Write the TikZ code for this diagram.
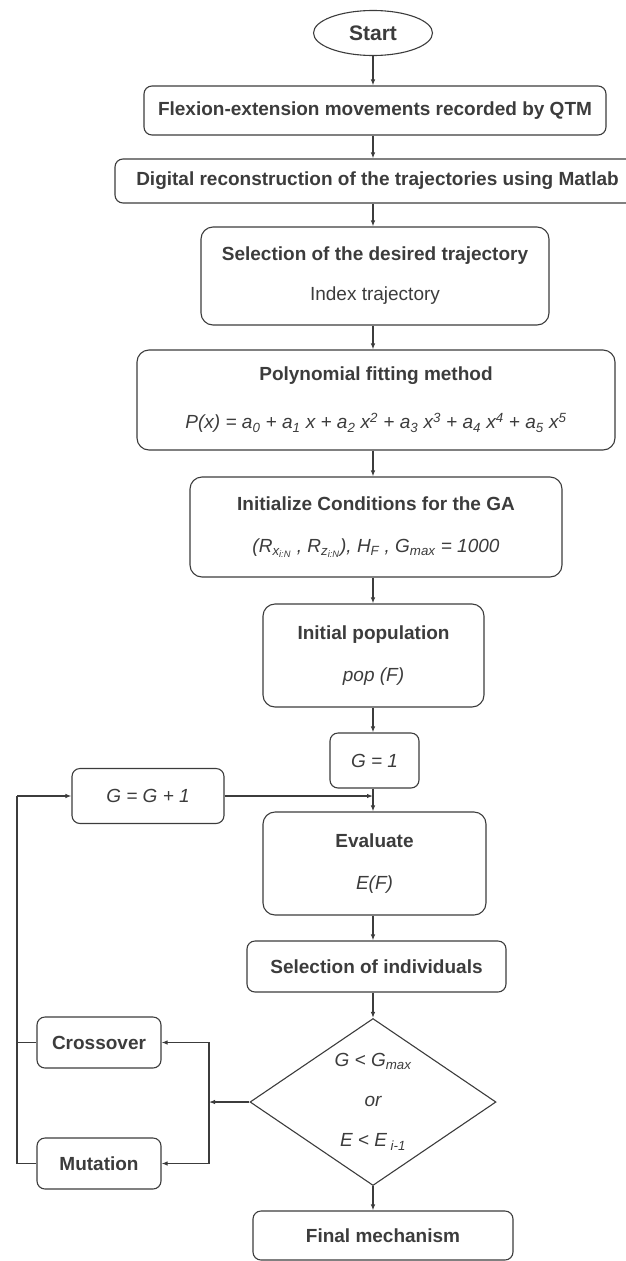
\documentclass[tikz,border=0pt]{standalone}
\usepackage{fontspec}
\setmainfont{Liberation Sans}
\usetikzlibrary{arrows.meta,shapes.geometric}
\definecolor{ink}{HTML}{3C3C3C}

\begin{document}
\begin{tikzpicture}[x=1pt,y=-1pt,>={Latex[length=6pt,width=4.5pt]},
  every node/.style={text=ink,font=\fontsize{19}{23}\selectfont},
  box/.style={draw=ink,line width=1.1pt,rounded corners=12pt,inner sep=0pt,align=center},
  smallbox/.style={box,rounded corners=8pt},
  line/.style={draw=ink,line width=1.1pt},
  flow/.style={line,->}]
  \useasboundingbox (0,0) rectangle (625,1261);
  \node[line,ellipse,minimum width=119pt,minimum height=45pt,inner sep=0pt,font=\fontsize{21}{25}\selectfont\bfseries] (start) at (373,33) {Start};
  \node[smallbox,minimum width=462pt,minimum height=49pt] (flex) at (375,110.5) {\bfseries Flexion-extension movements recorded by QTM};
  \node[smallbox,minimum width=525pt,minimum height=44pt] (digit) at (377.5,181) {\bfseries Digital reconstruction of the trajectories using Matlab};
  \node[box,minimum width=348pt,minimum height=98pt] (seltraj) at (375,276) {{\bfseries Selection of the desired trajectory}\\[17pt] Index trajectory};
  \node[box,minimum width=478pt,minimum height=100pt] (poly) at (376,400) {{\bfseries Polynomial fitting method}\\[25pt] \itshape P(x) = a\textsubscript{0} + a\textsubscript{1} x + a\textsubscript{2} x\textsuperscript{2} + a\textsubscript{3} x\textsuperscript{3} + a\textsubscript{4} x\textsuperscript{4} + a\textsubscript{5} x\textsuperscript{5}};
  \node[box,minimum width=372pt,minimum height=100pt] (init) at (376,527) {{\bfseries Initialize Conditions for the GA}\\[19pt] \itshape (R\textsubscript{x\textsubscript{i:N}} , R\textsubscript{z\textsubscript{i:N}}), H\textsubscript{F} , G\textsubscript{max} = 1000};
  \node[box,minimum width=221pt,minimum height=103pt] (pop) at (373.5,655.5) {{\bfseries Initial population}\\[19pt] \itshape pop (F)};
  \node[smallbox,minimum width=89pt,minimum height=55pt] (gone) at (374.5,760.5) {\itshape G = 1};
  \node[smallbox,minimum width=152pt,minimum height=55pt] (ginc) at (148,796) {\itshape G = G + 1};
  \node[box,minimum width=223pt,minimum height=103pt] (eval) at (374.5,863.5) {{\bfseries Evaluate}\\[19pt] \itshape E(F)};
  \node[smallbox,minimum width=259pt,minimum height=51pt] (selind) at (376.5,966.5) {\bfseries Selection of individuals};
  \node[line,diamond,minimum width=246pt,minimum height=167pt,inner sep=0pt] (cond) at (373,1102) {};
  \node[align=center,font=\fontsize{19}{23}\selectfont\itshape] (condtxt) at (cond) {G < G\textsubscript{max}\\[17pt] or\\[17pt] E < E\textsubscript{ i-1}};
  \node[smallbox,minimum width=124pt,minimum height=51pt] (cross) at (99,1042.5) {\bfseries Crossover};
  \node[smallbox,minimum width=124pt,minimum height=51pt] (mut) at (99,1163.5) {\bfseries Mutation};
  \node[smallbox,minimum width=260pt,minimum height=49pt] (final) at (383,1235.5) {\bfseries Final mechanism};

  \draw[flow] (start.south) -- (flex.north -| start);
  \draw[flow] (flex.south -| start) -- (digit.north -| start);
  \draw[flow] (digit.south -| start) -- (seltraj.north -| start);
  \draw[flow] (seltraj.south -| start) -- (poly.north -| start);
  \draw[flow] (poly.south -| start) -- (init.north -| start);
  \draw[flow] (init.south -| start) -- (pop.north -| start);
  \draw[flow] (pop.south -| start) -- (gone.north -| start);
  \draw[flow] (gone.south -| start) -- (eval.north -| start);
  \draw[flow] (eval.south -| start) -- (selind.north -| start);
  \draw[flow] (selind.south -| start) -- (cond.north);
  \draw[flow] (cond.south) -- (final.north -| cond);

  \coordinate (split) at (209,1102);
  \coordinate (back) at (17,796);
  \draw[flow] (cond.west) -- (split);
  \draw[flow] (split) |- (cross.east);
  \draw[flow] (split) |- (mut.east);
  \draw[line] (cross.west) -- (cross.west -| back);
  \draw[line] (mut.west) -| (back);
  \draw[flow] (back) -- (ginc.west);
  \draw[flow] (ginc.east) -- (ginc.east -| start);
\end{tikzpicture}
\end{document}
